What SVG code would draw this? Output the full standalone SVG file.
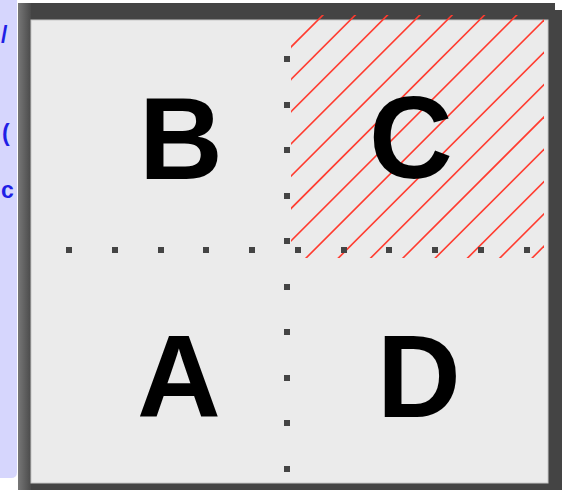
<svg xmlns="http://www.w3.org/2000/svg" width="562" height="490" viewBox="0 0 562 490">
  <defs>
    <style>
      .lbl { font-family: "Liberation Sans", Arial, sans-serif; font-weight: bold; font-size: 116px; fill: #000; text-anchor: middle; }
      .hatch line { stroke: #ff3b2f; stroke-width: 1.6; }
      .side { font-family: "Liberation Sans", Arial, sans-serif; font-weight: bold; font-size: 23px; fill: #1f1fe6; }
    </style>
    <rect id="dot" width="6" height="6" fill="#444"/>
    <linearGradient id="leftEdge" x1="0" y1="0" x2="1" y2="0">
      <stop offset="0" stop-color="#777"/>
      <stop offset="1" stop-color="#4a4a4a"/>
    </linearGradient>
    <clipPath id="hatchClip"><rect x="291" y="15" width="253" height="243"/></clipPath>
  </defs>

  <rect width="562" height="490" fill="#fff"/>

  <g id="side-panel">
    <path d="M0 0 H17 V472 Q17 478 11 478 H0 Z" fill="#d6d6fd"/>
    <text class="side" x="1" y="43">/</text>
    <text class="side" x="2" y="141">(</text>
    <text class="side" x="1" y="198">c</text>
  </g>

  <g id="frame">
    <rect x="25" y="10" width="537" height="490" fill="#444"/>
    <rect x="18" y="3" width="537" height="490" fill="#444"/>
    <rect x="18" y="3" width="13" height="490" fill="url(#leftEdge)"/>
    <rect x="31" y="20" width="517" height="463" fill="#ebebeb" stroke="#c8c8c8" stroke-width="1"/>
  </g>

  <g id="node-C">
    <g class="hatch" clip-path="url(#hatchClip)">
      <line x1="38" y1="300" x2="338" y2="0"/>
      <line x1="70.3" y1="300" x2="370.3" y2="0"/>
      <line x1="102.6" y1="300" x2="402.6" y2="0"/>
      <line x1="134.9" y1="300" x2="434.9" y2="0"/>
      <line x1="167.2" y1="300" x2="467.2" y2="0"/>
      <line x1="199.5" y1="300" x2="499.5" y2="0"/>
      <line x1="231.8" y1="300" x2="531.8" y2="0"/>
      <line x1="264.1" y1="300" x2="564.1" y2="0"/>
      <line x1="296.4" y1="300" x2="596.4" y2="0"/>
      <line x1="328.7" y1="300" x2="628.7" y2="0"/>
      <line x1="361" y1="300" x2="661" y2="0"/>
      <line x1="393.3" y1="300" x2="693.3" y2="0"/>
      <line x1="425.6" y1="300" x2="725.6" y2="0"/>
      <line x1="457.9" y1="300" x2="757.9" y2="0"/>
      <line x1="490.2" y1="300" x2="790.2" y2="0"/>
    </g>
    <text class="lbl" x="411" y="178">C</text>
  </g>

  <g id="node-B">
    <text class="lbl" x="181" y="179">B</text>
  </g>

  <g id="node-A">
    <text class="lbl" x="179" y="417">A</text>
  </g>

  <g id="node-D">
    <text class="lbl" x="419" y="417">D</text>
  </g>

  <g id="connectors">
    <use href="#dot" x="66" y="247"/>
    <use href="#dot" x="112" y="247"/>
    <use href="#dot" x="158" y="247"/>
    <use href="#dot" x="203" y="247"/>
    <use href="#dot" x="249" y="247"/>
    <use href="#dot" x="295" y="247"/>
    <use href="#dot" x="341" y="247"/>
    <use href="#dot" x="386" y="247"/>
    <use href="#dot" x="432" y="247"/>
    <use href="#dot" x="478" y="247"/>
    <use href="#dot" x="524" y="247"/>
    <use href="#dot" x="284" y="56"/>
    <use href="#dot" x="284" y="102"/>
    <use href="#dot" x="284" y="147"/>
    <use href="#dot" x="284" y="193"/>
    <use href="#dot" x="284" y="238"/>
    <use href="#dot" x="284" y="284"/>
    <use href="#dot" x="284" y="329"/>
    <use href="#dot" x="284" y="375"/>
    <use href="#dot" x="284" y="420"/>
    <use href="#dot" x="284" y="466"/>
  </g>
</svg>
